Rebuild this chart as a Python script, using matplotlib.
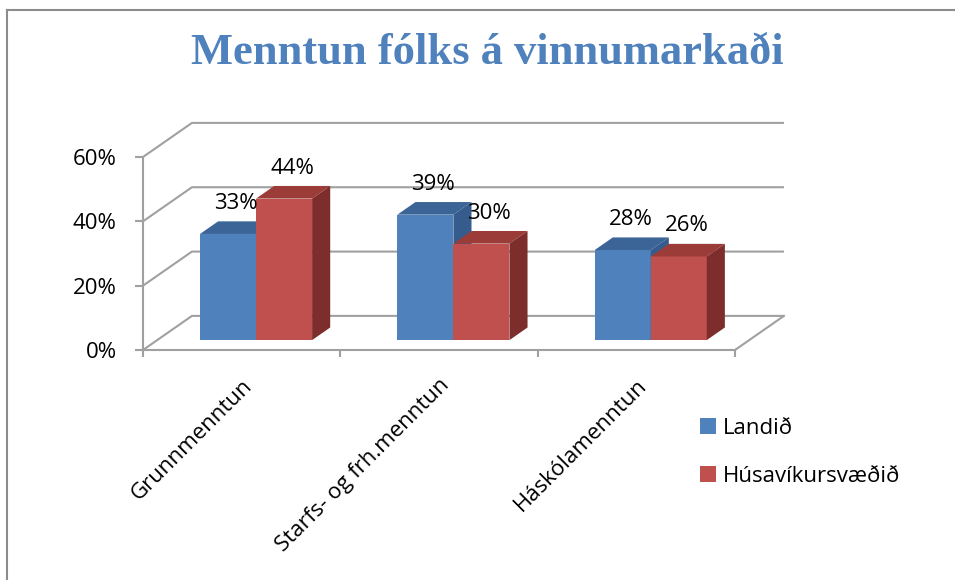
import matplotlib
matplotlib.use("Agg")
import matplotlib.pyplot as plt
from matplotlib.patches import Polygon, Patch
from matplotlib.lines import Line2D

# --- data --------------------------------------------------------------------
title = "Menntun fólks á vinnumarkaði"
categories = ["Grunnmenntun", "Starfs- og frh.menntun", "Háskólamenntun"]
series = ["Landið", "Húsavíkursvæðið"]
landid = [33, 39, 28]
husavik = [44, 30, 26]
yticks = [0, 20, 40, 60]

# --- style -------------------------------------------------------------------
FRONT = ["#4F81BD", "#C0504D"]
TOP = ["#3B6597", "#9B3C39"]
SIDE = ["#355C8C", "#7D2E2C"]
GRID = "#A0A0A0"

DX, DY = 0.248, 10.6   # fake-3D depth of the back wall (x units, percent units)
F, D = 0.29, 0.37      # bars stand from F to F+D of that depth
W = 0.284              # bar width (category = 1)
X0 = 0.217             # left edge of first bar inside a category

plt.rcParams["font.family"] = ["Open Sans", "DejaVu Sans"]
fig = plt.figure(figsize=(9.55, 5.8), dpi=100)
ax = fig.add_axes([143 / 955, 1 - 350 / 580, 592 / 955, 193 / 580])
n = len(categories)
ax.set_xlim(0, n)
ax.set_ylim(0, yticks[-1])

# back wall gridlines + floor edges
for v in yticks:
    ax.plot([0, DX, n + DX], [v, v + DY, v + DY], color=GRID, lw=1.5,
            clip_on=False, zorder=1, solid_capstyle="butt")
ax.plot([n, n + DX], [0, DY], color=GRID, lw=1.5, clip_on=False, zorder=1)

# bars: front face via ax.bar, top + side faces as polygons
for i, vals in enumerate([landid, husavik]):
    for c, v in enumerate(vals):
        xl = c + X0 + i * W + F * DX
        b = F * DY
        yt = b + v
        ax.bar(xl, v, W, bottom=b, align="edge", color=FRONT[i], lw=0,
               zorder=3 + i, clip_on=False)
        ax.add_patch(Polygon([(xl, yt), (xl + W, yt), (xl + W + D * DX, yt + D * DY),
                              (xl + D * DX, yt + D * DY)], closed=True,
                             facecolor=TOP[i], lw=0, zorder=3 + i, clip_on=False))
        ax.add_patch(Polygon([(xl + W, b), (xl + W + D * DX, b + D * DY),
                              (xl + W + D * DX, yt + D * DY), (xl + W, yt)], closed=True,
                             facecolor=SIDE[i], lw=0, zorder=3 + i, clip_on=False))
        ax.text(xl + W / 2 + 0.04, yt + 9.5, f"{v}%", ha="center", va="center",
                fontsize=16, zorder=6)

# axes
for s in ("top", "right"):
    ax.spines[s].set_visible(False)
for s in ("left", "bottom"):
    ax.spines[s].set_color(GRID)
    ax.spines[s].set_linewidth(1.5)
ax.set_yticks(yticks, labels=[f"{v}%" for v in yticks])
ax.tick_params(axis="y", length=6, width=1.5, color=GRID, pad=13, labelsize=16)
ax.set_xticks([c + 0.5 for c in range(n)], labels=categories)
ax.set_xticks(range(n + 1), minor=True)
ax.tick_params(axis="x", which="major", length=0, pad=18, labelsize=16)
ax.tick_params(axis="x", which="minor", length=5, width=1.5, color=GRID)
for lab in ax.get_xticklabels():
    lab.set_rotation(45)
    lab.set_ha("right")
    lab.set_rotation_mode("anchor")

# legend
handles = [Patch(facecolor=c, lw=0) for c in FRONT]
fig.legend(handles, series, loc="upper left", bbox_to_anchor=(700 / 955, 1 - 418 / 580),
           frameon=False, fontsize=16, handlelength=0.7, handleheight=0.7,
           handletextpad=0.35, labelspacing=1.2, borderpad=0, borderaxespad=0)

# title + chart frame
fig.text(487 / 955, 1 - 53 / 580, title, ha="center", va="center", fontsize=32,
         fontweight="bold", family=["Liberation Serif", "DejaVu Serif"], color="#4F81BD")
fig.add_artist(Line2D([7 / 955, 7 / 955], [0, 1 - 10 / 580], transform=fig.transFigure,
                      color="#8C8C8C", lw=1.5))
fig.add_artist(Line2D([7 / 955, 1], [1 - 10 / 580, 1 - 10 / 580], transform=fig.transFigure,
                      color="#8C8C8C", lw=1.5))

fig.savefig("out.png", dpi=100)
